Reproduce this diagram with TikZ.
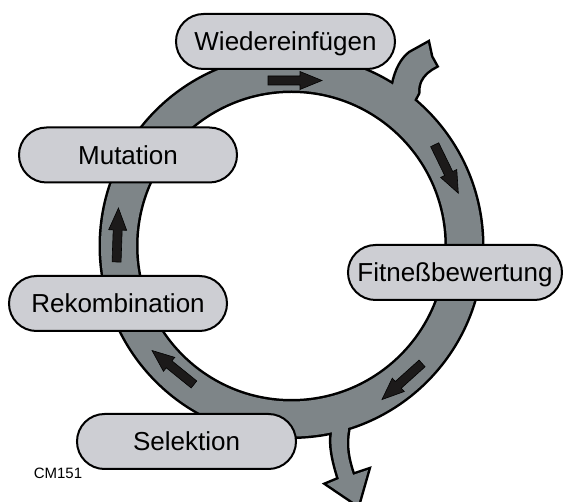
\documentclass[tikz,border=0pt]{standalone}
\usepackage{fontspec}
\setmainfont{Liberation Sans}
\definecolor{ringgray}{RGB}{126,133,136}
\definecolor{nodegray}{RGB}{205,206,211}
\definecolor{arrowdark}{RGB}{28,26,26}
\newcommand\cyclearrow[3]{%
  \begin{scope}[shift={(#1,#2)},rotate=#3]
    \filldraw[flowarrow] (-27,-4.5) -- (5,-4.5) -- (5,-9) -- (27,0) -- (5,9) -- (5,4.5) -- (-27,4.5) -- cycle;
  \end{scope}}
\begin{document}
\begin{tikzpicture}[x=1pt,y=-1pt,
  stage/.style={draw=black, line width=2pt, fill=nodegray, rounded corners=27.5pt,
    minimum height=55pt, inner sep=0pt, font=\fontsize{26}{30}\selectfont,
    text height=18.6pt, text depth=0pt},
  flowarrow/.style={fill=arrowdark, draw=black, line width=0.6pt, line join=miter},
  ringline/.style={draw=black, line width=5pt, line join=miter, miter limit=4},
  ringfill/.style={fill=ringgray}]
\useasboundingbox (0,0) rectangle (563,502);
\coordinate (c) at (291.5,246);
% outline pass
\path[ringline] (c) circle[radius=190.5pt];
\path[ringline] (c) circle[radius=155.5pt];
\path[ringline] (387,97) -- (393,85) .. controls (396,70) and (402,59) .. (410,53) -- (428,43) -- (431,57) -- (436,66)
  .. controls (430,69) and (423,74) .. (420,81) .. controls (418,86) and (418,90) .. (418,93) -- (410,108) -- cycle;
\path[ringline] (331,420) -- (332,433) .. controls (330,445) and (333,460) .. (339,479) -- (327,484) -- (358,505)
  -- (368,470) -- (353,475) .. controls (348,460) and (345,447) .. (348,430) -- (347,418) -- cycle;
% fill pass
\fill[ringgray, even odd rule] (c) circle[radius=190.5pt] (c) circle[radius=155.5pt];
\fill[ringgray] (387,97) -- (393,85) .. controls (396,70) and (402,59) .. (410,53) -- (428,43) -- (431,57) -- (436,66)
  .. controls (430,69) and (423,74) .. (420,81) .. controls (418,86) and (418,90) .. (418,93) -- (410,108) -- cycle;
\fill[ringgray] (331,420) -- (332,433) .. controls (330,445) and (333,460) .. (339,479) -- (327,484) -- (358,505)
  -- (368,470) -- (353,475) .. controls (348,460) and (345,447) .. (348,430) -- (347,418) -- cycle;
% direction arrows on the ring
\cyclearrow{295}{80.5}{0}
\cyclearrow{446.5}{169}{-64}
\cyclearrow{402}{381.5}{-138}
\cyclearrow{173}{367.5}{141}
\cyclearrow{117.5}{235}{88}
% stages
\node[stage, minimum width=219pt] (wied) at (285.5,41.5) {Wiedereinfügen};
\node[stage, minimum width=218pt] (mut) at (128,155) {Mutation};
\node[stage, minimum width=218pt] (rek) at (118,303.5) {Rekombination};
\node[stage, minimum width=219pt] (sel) at (186.5,441.5) {Selektion};
\node[stage, minimum width=214pt] (fit) at (455,272.5) {Fitneßbewertung};
\node[inner sep=0pt, font=\fontsize{15}{18}\selectfont, text height=10.7pt, text depth=0pt] (cm) at (58,473.5) {CM151};
\end{tikzpicture}
\end{document}
